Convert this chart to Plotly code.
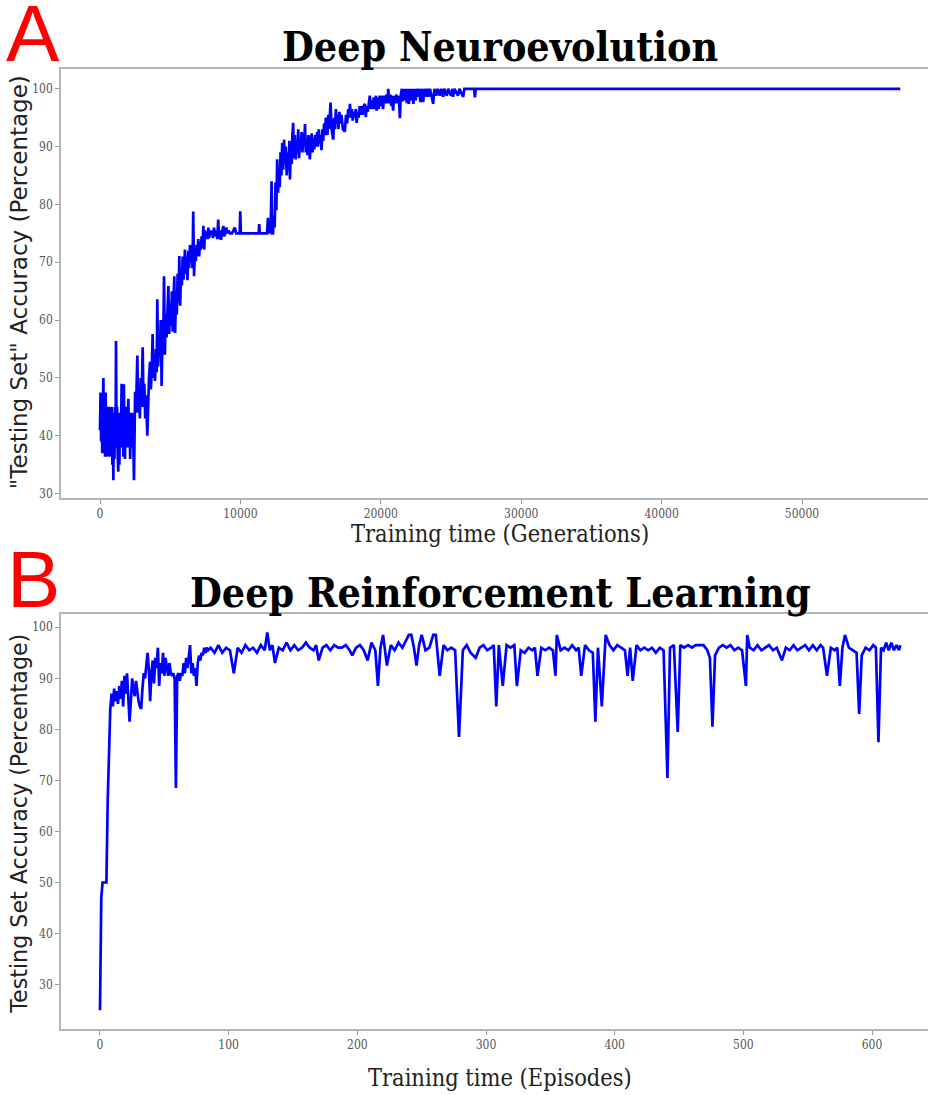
import plotly.graph_objects as go

# ---------------- Panel A: Deep Neuroevolution ----------------
ne_gen_a = [0, 40, 80, 120, 160, 200, 240, 280, 320, 360,
            400, 440, 480, 520, 560, 600, 640, 680, 720, 760,
            800, 840, 880, 920, 950, 990, 1030, 1070, 1110, 1140,
            1180, 1220, 1260, 1300, 1340, 1380, 1420, 1460, 1500, 1540,
            1580, 1620, 1660, 1700, 1740, 1780, 1820, 1860, 1900, 1940,
            1980, 2020, 2060, 2100, 2150, 2200, 2240, 2280, 2320, 2360,
            2420, 2460, 2500]
ne_acc_a = [41, 47.5, 39, 45, 37, 47, 50, 38, 44, 36.4,
            47.5, 40, 45, 36.4, 43, 38, 45, 40, 36.4, 44,
            38, 45, 35, 42, 32.3, 44, 36, 45, 38, 56.4,
            40, 45, 37, 33.8, 42, 35, 44, 38, 41, 49,
            40, 44, 36.4, 48.9, 41, 36, 43, 39, 45, 38,
            42, 46.4, 40, 44, 36, 42, 39, 44, 38, 41,
            32.3, 44, 47.6]

ne_gen_b = [2560, 2600, 2660, 2720, 2780, 2840, 2900, 2960, 3040, 3100,
            3160, 3220, 3280, 3370, 3430, 3490, 3560, 3620, 3680, 3750,
            3800, 3860, 3920, 3980, 4040, 4080, 4140, 4200, 4260, 4330,
            4390, 4450, 4500, 4560, 4620, 4680, 4740, 4800, 4870, 4930,
            5000, 5060, 5120, 5180, 5240, 5290, 5350, 5410, 5470, 5530,
            5590, 5650, 5710, 5770, 5830, 5890, 5950, 6050, 6110, 6170,
            6230, 6290, 6350, 6410, 6470, 6530, 6590, 6640, 6700, 6760,
            6820, 6880, 6940, 7000, 7060, 7120, 7180, 7240, 7300, 7360,
            7420, 7480, 7540, 7600, 7660, 7720, 7780, 7840, 7900, 7960]
ne_acc_b = [44, 47, 53.9, 44, 48, 43, 50, 45, 55.3, 45,
            49, 43, 47, 40, 48, 50, 52.8, 48, 51, 57.6,
            50, 53, 49.5, 55, 51, 63.6, 52, 56, 54.5, 60,
            48.6, 58, 55, 67.6, 54, 61, 57, 63, 65.9, 57.6,
            63, 59, 65, 58, 62, 67.6, 57.8, 64, 61, 68,
            63, 71.1, 62.5, 69, 66, 71, 67, 72.2, 68, 71,
            66.9, 72, 69, 73, 70, 72.5, 69, 78.8, 67.6, 72.5,
            70.2, 73, 71, 74, 71, 73.5, 72.2, 74.5, 72.5, 76.3,
            72.2, 75.5, 74, 75.1, 74, 76, 74.2, 75.5, 74.7, 75.5]

ne_gen_c = [8050, 8120, 8200, 8280, 8350, 8420, 8480, 8550, 8620, 8700,
            8780, 8850, 8920, 9000, 9080, 9150, 9250, 9400, 9600, 9700,
            9950, 9990, 10030, 10500, 11000, 11300, 11340, 11380, 11900, 11960,
            12000, 12100, 12150, 12220, 12260, 12320]
ne_acc_c = [74.2, 76, 74.5, 75.5, 74, 77.4, 74, 75.5, 73.9, 75.5,
            76.3, 74.5, 75, 76, 75, 75.5, 75, 75, 76, 75,
            75, 78.8, 75, 75, 75, 75, 76.6, 75, 75, 77.7,
            75, 76, 75, 84, 75, 75]

ne_gen_d = [12380, 12440, 12500, 12560, 12620, 12680, 12740, 12800, 12860, 12920,
            12980, 13050, 13110, 13170, 13230, 13300, 13370, 13430, 13490, 13530,
            13600, 13660, 13700, 13760, 13820, 13880, 13940, 14000, 14060, 14120,
            14180, 14240, 14300, 14360, 14420, 14480, 14540, 14600, 14660, 14720,
            14780, 14840, 14900, 14950, 15010, 15080, 15140, 15200, 15260, 15330,
            15400, 15460, 15520, 15580, 15640, 15700, 15780, 15840, 15900, 15960,
            16020, 16080, 16140, 16200, 16260, 16320, 16420, 16500, 16610, 16680,
            16740, 16800, 16860, 16920, 16980, 17050, 17120, 17200, 17300, 17440,
            17520, 17600, 17680, 17750, 17800, 17870, 17940, 18000, 18080, 18150,
            18220, 18280, 18350, 18420, 18500, 18570, 18640, 18700, 18780, 18870,
            18930, 19000, 19070, 19150, 19220, 19290, 19360, 19430, 19500, 19580,
            19650, 19700, 19780, 19850, 19920, 20000, 20080, 20160, 20240, 20320,
            20400, 20470, 20530, 20600, 20680, 20750, 20800, 20880, 20950, 21020]
ne_acc_d = [78, 76, 83.8, 79, 87.8, 82, 86, 83, 89, 85,
            90.6, 86, 91.2, 87, 90, 85, 89, 86, 91, 84.3,
            90, 87, 92, 94.1, 88, 92, 87.8, 91, 89, 93,
            88, 91, 89.5, 92.5, 89, 92.3, 90, 93.9, 89, 91,
            88.5, 92, 89, 87.8, 91, 92.3, 89, 91.5, 89.5, 92,
            90, 92.5, 90, 93, 90.5, 92, 89.4, 93, 91, 94,
            92, 95, 94.6, 92, 95.5, 93, 97.6, 93, 91.2, 95,
            93, 96.5, 94, 95.5, 93, 96, 94, 95.5, 93, 92.6,
            95.5, 94, 96.5, 95, 97.4, 95, 96.5, 94.5, 96, 95,
            96.5, 94.1, 96, 95, 97, 95.5, 97, 95.5, 97, 97.4,
            95.1, 97, 96, 98, 98.8, 96.5, 98, 96.5, 98.5, 96.5,
            98.8, 96.2, 98.5, 96.5, 98.8, 97, 98.8, 96.5, 98.8, 97.5,
            99, 97.5, 100, 97.5, 99, 97, 98.8, 96.2, 98.8, 97.5]

ne_gen_e = [21100, 21200, 21280, 21360, 21420, 21500, 21560, 21640, 21700, 21780,
            21850, 21920, 22000, 22080, 22160, 22240, 22320, 22400, 22480, 22560,
            22650, 22740, 22820, 22900, 23020, 23100, 23200, 23300, 23400, 23500,
            23620, 23730, 23820, 23950, 24050, 24200, 24300, 24440, 24520, 24700,
            24800, 25000, 25100, 25150, 25250, 25500, 25600, 25870, 25950, 26650,
            26700, 26760, 57000]
ne_acc_e = [99, 97.5, 98.8, 94.9, 98.8, 100, 97.8, 100, 98, 100,
            97.5, 100, 97.4, 100, 98, 100, 97.4, 100, 98, 100,
            98.6, 100, 97.7, 100, 97.7, 100, 98.6, 100, 98.6, 100,
            98.8, 97.4, 100, 98.8, 100, 98.8, 100, 98.6, 100, 98.8,
            100, 98.8, 100, 98.6, 100, 98.8, 100, 98.6, 100, 100,
            98.5, 100, 100]

ne_gen = ne_gen_a + ne_gen_b + ne_gen_c + ne_gen_d + ne_gen_e
ne_acc = ne_acc_a + ne_acc_b + ne_acc_c + ne_acc_d + ne_acc_e

# ---------------- Panel B: Deep Reinforcement Learning ----------------
rl_ep_a = list(range(0, 85))
rl_acc_a = [25, 47, 50, 50, 50, 50, 66, 76, 84, 87,
            84.5, 88, 85.5, 87.5, 85, 88.5, 86, 89.5, 84.5, 90.5,
            87, 91, 86, 81.5, 85.5, 90, 88, 86.5, 89.5, 87,
            85.5, 84.5, 84, 88, 91, 90, 92.5, 95, 91.5, 85.5,
            91, 93.5, 89, 94, 92, 96, 88.5, 93, 91, 95,
            90.5, 94, 92, 90.5, 93, 91, 90.5, 91, 90, 68.5,
            90.5, 91, 89.5, 91, 90.5, 93, 91, 94, 92, 95,
            96.5, 91, 93, 90.5, 92, 88.5, 93, 94.5, 93.5, 95,
            94.5, 96, 95, 96, 95.5]

rl_ep_b = [86, 89, 92, 95, 98, 101, 104, 107, 110, 113,
           116, 119, 122, 125, 128, 130, 132, 134, 136, 139,
           142, 145, 148, 151, 154, 157, 160, 163, 166, 168,
           170, 173, 176, 179, 182, 185, 188, 191, 194, 196,
           199, 202, 205, 208, 211, 214, 216, 218, 220, 223,
           226, 229, 232, 235, 238, 240, 242, 244, 246, 248,
           250, 253, 256, 259, 261, 264, 267, 270, 273, 276,
           279, 282, 285, 288, 292, 295, 298, 301, 304, 306,
           308, 310, 313, 316, 319, 322, 324, 327, 330, 333,
           336, 338, 340, 343, 346, 349, 352, 354, 355, 358,
           361, 364, 367, 370, 372, 374, 377, 380, 383, 385,
           387, 390, 393, 396, 399, 402, 405, 408, 410, 412,
           414, 417, 420, 423, 426, 429, 432, 435, 438, 441,
           443, 446, 449, 451, 454, 457, 460, 463, 466, 469,
           472, 474, 476, 478, 481, 484, 487, 490, 493, 496,
           499, 502, 503, 505, 508, 511, 514, 517, 520, 523,
           526, 530, 533, 536, 539, 542, 545, 548, 551, 554,
           557, 560, 562, 565, 568, 571, 573, 575, 577, 579,
           582, 585, 588, 590, 592, 595, 598, 601, 603, 605,
           607, 609, 611, 613, 615, 617, 619, 621, 622]
rl_acc_b = [96, 95, 96.5, 95, 96, 95.5, 91, 96, 95, 96.5,
            95.5, 96, 95, 96.5, 95.5, 99, 95.5, 96.5, 93, 96,
            95.5, 97, 95.5, 96.5, 95.5, 96, 97, 96, 95.5, 96.5,
            93.5, 96, 96.5, 95.5, 96.5, 96, 96, 96.5, 95.5, 94.5,
            96, 96.5, 95.5, 93.5, 97, 95.5, 88.5, 96, 98.5, 92.5,
            96.5, 95.5, 97, 96, 97.5, 98.5, 98.5, 96, 92.5, 96.5,
            98.5, 95.5, 96, 98.5, 98.5, 90.5, 96.5, 95.5, 96, 95.5,
            78.5, 95.5, 96.5, 95, 94, 96, 96.5, 95.5, 96, 96.5,
            84.5, 96.5, 88.5, 96.5, 96, 96.5, 88.5, 95.5, 95, 96,
            95.5, 96, 90.5, 96, 95.5, 96, 95.5, 90.5, 98.5, 95.5,
            96, 95.5, 96.5, 95.5, 96, 90.5, 96.5, 95.5, 95, 81.5,
            96, 84.5, 98.5, 96.5, 95.5, 96.5, 96, 95.5, 90.5, 96,
            89.5, 96.5, 95.5, 96, 95.5, 96, 95, 96, 95.5, 70.5,
            96, 96.5, 79.5, 96.5, 96, 96.5, 96, 96.5, 96.5, 96.5,
            95.5, 94, 80.5, 94.5, 96, 96.5, 96, 96.5, 95.5, 96,
            95.5, 88.5, 98.5, 96, 95.5, 96.5, 95.5, 96, 96.5, 95.5,
            96, 93.5, 96, 95.5, 96.5, 95.5, 96, 96.5, 95.5, 96.5,
            95.5, 96.5, 96, 90.5, 96, 95.5, 96, 88.5, 96, 98.5,
            96, 95.5, 95, 83, 94.5, 96, 95.5, 96.5, 96, 77.5,
            96, 95.5, 97, 95.5, 97, 95.5, 96.5, 95.5, 96.5]

rl_ep = rl_ep_a + rl_ep_b
rl_acc = rl_acc_a + rl_acc_b

# ---------------- Tick values / labels ----------------
ne_xticks = [0, 10000, 20000, 30000, 40000, 50000]
rl_xticks = [0, 100, 200, 300, 400, 500, 600]
acc_ticks = [30, 40, 50, 60, 70, 80, 90, 100]

titles = ["Deep Neuroevolution", "Deep Reinforcement Learning"]
panel_letters = ["A", "B"]
x_titles = ["Training time (Generations)", "Training time (Episodes)"]
y_titles = ['"Testing Set" Accuracy (Percentage)', "Testing Set Accuracy (Percentage)"]

# ---------------- Figure ----------------
W, H = 928, 1095
ML = 61

SERIF_C = "DejaVu Serif Condensed, DejaVu Serif"


def px_x(px):
    return (px - ML) / (W - ML)


def px_y(py):
    return (H - py) / H


line_style = dict(color="#0000ff", width=2.7)

fig = go.Figure()
fig.add_trace(go.Scatter(x=ne_gen, y=ne_acc, mode="lines", line=line_style,
                         xaxis="x", yaxis="y", showlegend=False, hoverinfo="skip"))
fig.add_trace(go.Scatter(x=rl_ep, y=rl_acc, mode="lines", line=line_style,
                         xaxis="x2", yaxis="y2", showlegend=False, hoverinfo="skip"))

tick_font = dict(family=SERIF_C, size=12, color="#555555")
axis_common = dict(showgrid=False, zeroline=False, showline=True,
                   linecolor="#b4b4b4", linewidth=1.5, ticks="outside",
                   ticklen=4, tickwidth=1, tickcolor="#999999", tickfont=tick_font)

fig.update_layout(
    width=W, height=H,
    margin=dict(l=ML, r=0, t=0, b=0),
    paper_bgcolor="white", plot_bgcolor="white",
    xaxis=dict(domain=[0, 1], anchor="y", range=[-2778, 58974],
               tickvals=ne_xticks, ticktext=[str(v) for v in ne_xticks],
               mirror=True, **axis_common),
    yaxis=dict(domain=[px_y(499.3), px_y(69.3)], anchor="x", range=[29.26, 103.40],
               tickvals=acc_ticks, ticktext=[str(v) for v in acc_ticks],
               **axis_common),
    xaxis2=dict(domain=[0, 1], anchor="y2", range=[-30.3, 643.5],
                tickvals=rl_xticks, ticktext=[str(v) for v in rl_xticks],
                mirror=True, **axis_common),
    yaxis2=dict(domain=[px_y(1031.7), px_y(615.7)], anchor="x2", range=[21.33, 102.6],
                tickvals=acc_ticks, ticktext=[str(v) for v in acc_ticks],
                **axis_common),
)

annos = []
# panel letters
for letter, cy in zip(panel_letters, [34, 581]):
    annos.append(dict(text=letter, x=px_x(33), y=px_y(cy), xref="paper", yref="paper",
                      xanchor="center", yanchor="middle", showarrow=False,
                      font=dict(family="Liberation Sans", size=80, color="#ff0000")))
# titles
for t, cy in zip(titles, [47, 595]):
    annos.append(dict(text="<b>" + t + "</b>", x=px_x(500), y=px_y(cy), xref="paper", yref="paper",
                      xanchor="center", yanchor="middle", showarrow=False,
                      font=dict(family=SERIF_C, size=40.8, color="#000000")))
# x titles
for t, cy in zip(x_titles, [535, 1081]):
    annos.append(dict(text=t, x=px_x(500), y=px_y(cy), xref="paper", yref="paper",
                      xanchor="center", yanchor="middle", showarrow=False,
                      font=dict(family=SERIF_C, size=23.4, color="#222222")))
# y titles
for t, cy, fs in zip(y_titles, [283, 826], [23, 22.2]):
    annos.append(dict(text=t, x=px_x(19), y=px_y(cy), xref="paper", yref="paper",
                      xanchor="center", yanchor="middle", showarrow=False, textangle=-90,
                      font=dict(family="DejaVu Sans", size=fs, color="#222222")))
fig.update_layout(annotations=annos)

fig.write_html("out.html",
               config={"displayModeBar": False},
               post_script="document.body.style.margin='0';document.body.style.padding='0';")
